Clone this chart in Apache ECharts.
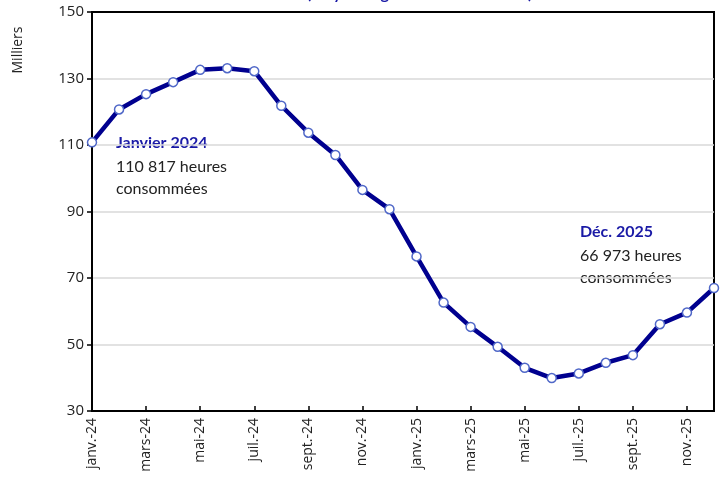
<!DOCTYPE html>
<html>
<head>
<meta charset="utf-8">
<script src="https://cdn.jsdelivr.net/npm/echarts@6/dist/echarts.min.js"></script>
<style>
  html, body { margin: 0; padding: 0; background: #fff; }
  #chart { width: 724px; height: 486px; }
</style>
</head>
<body>
<div id="chart"></div>
<script>
    // mois (janv.-24 -> déc.-25)
    var months = ['janv.-24', 'févr.-24', 'mars-24', 'avr.-24', 'mai-24', 'juin-24',
        'juil.-24', 'août-24', 'sept.-24', 'oct.-24', 'nov.-24', 'déc.-24',
        'janv.-25', 'févr.-25', 'mars-25', 'avr.-25', 'mai-25', 'juin-25',
        'juil.-25', 'août-25', 'sept.-25', 'oct.-25', 'nov.-25', 'déc.-25'];

    // heures consommées, en milliers
    var hours = [110.8, 120.7, 125.3, 128.9, 132.6, 133.1,
        132.2, 121.8, 113.7, 107.0, 96.5, 90.7,
        76.5, 62.6, 55.3, 49.3, 43.0, 39.9,
        41.3, 44.5, 46.8, 56.1, 59.6, 67.0];

    var yTicks = {min: 30, max: 150, interval: 20};

    var navy = '#00008f';
    var font = 'Lato, "Noto Sans", sans-serif';

    var chart = echarts.init(document.getElementById('chart'));

    var option = {
        animation: false,
        title: {
            text: 'Heures consommées (moyenne glissante sur 12 mois)',
            left: 150,
            top: -19,
            textStyle: {color: '#1a1aa6', fontSize: 16, fontWeight: 'bold', fontFamily: font}
        },
        grid: {
            left: 92,
            right: 10,
            top: 12,
            bottom: 75,
            show: true,
            borderColor: '#000',
            borderWidth: 2
        },
        xAxis: {
            type: 'category',
            boundaryGap: false,
            data: months,
            axisLine: {lineStyle: {color: '#000', width: 2}},
            axisTick: {inside: true, length: 5, interval: 1, lineStyle: {color: '#000', width: 1.5}},
            axisLabel: {
                interval: 1,
                rotate: 90,
                margin: 7,
                color: '#222',
                fontSize: 14,
                fontFamily: '"Open Sans", sans-serif'
            },
            splitLine: {show: false}
        },
        yAxis: {
            type: 'value',
            min: yTicks.min,
            max: yTicks.max,
            interval: yTicks.interval,
            axisLine: {show: true, lineStyle: {color: '#000', width: 2}},
            axisTick: {show: true, length: 5, lineStyle: {color: '#000', width: 1.5}},
            axisLabel: {
                margin: 8,
                color: '#222',
                fontSize: 15,
                fontFamily: '"Open Sans", sans-serif'
            },
            splitLine: {showMaxLine: false, lineStyle: {color: '#d9d9d9', width: 1.5}}
        },
        series: [{
            name: 'Heures consommées',
            type: 'line',
            data: hours,
            symbol: 'circle',
            symbolSize: 9,
            lineStyle: {color: navy, width: 4.5},
            itemStyle: {color: '#fff', borderColor: '#5068c8', borderWidth: 1.5},
            z: 3
        }],
        graphic: [
            {
                type: 'text',
                x: 18,
                y: 50,
                rotation: Math.PI / 2,
                style: {text: 'Milliers', fill: '#222', font: '14px "Open Sans", sans-serif', align: 'center', verticalAlign: 'middle'}
            },
            {
                type: 'text',
                left: 116,
                top: 135,
                style: {text: 'Janvier 2024', fill: '#1a1aa6', font: 'bold 16px ' + font}
            },
            {
                type: 'text',
                left: 116,
                top: 156,
                style: {text: '110 817 heures\nconsommées', fill: '#222', font: '16px ' + font, lineHeight: 22}
            },
            {
                type: 'text',
                left: 580,
                top: 224,
                style: {text: 'Déc. 2025', fill: '#1a1aa6', font: 'bold 16px ' + font}
            },
            {
                type: 'text',
                left: 580,
                top: 245,
                style: {text: '66 973 heures\nconsommées', fill: '#222', font: '16px ' + font, lineHeight: 22}
            }
        ]
    };

    chart.setOption(option);
</script>
</body>
</html>
